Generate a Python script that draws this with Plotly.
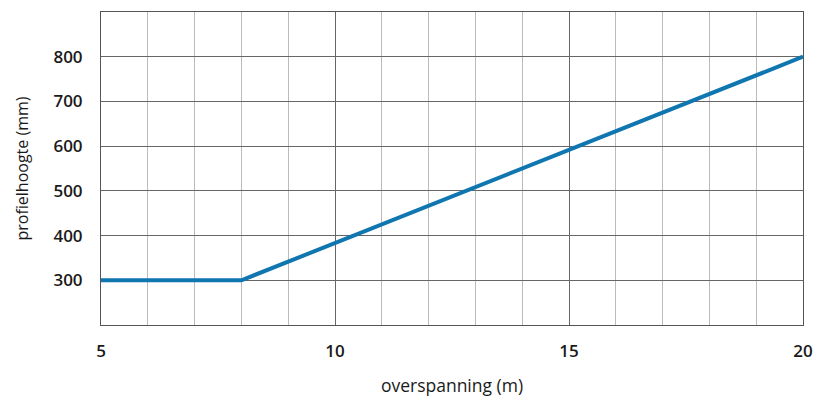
import plotly.graph_objects as go

span_m = [5, 8, 20]
height_mm = [300, 300, 800]
x_ticks = [5, 10, 15, 20]
y_ticks = [300, 400, 500, 600, 700, 800]

fig = go.Figure()
fig.add_trace(go.Scatter(x=span_m, y=height_mm, mode="lines",
                         line=dict(color="#0f76b0", width=4), showlegend=False,
                         hoverinfo="skip"))

font = dict(family="Open Sans", size=17, color="#1a1a1a", weight=600)
fig.update_layout(
    width=814, height=397,
    margin=dict(l=101, r=11, t=12, b=72, autoexpand=False),
    plot_bgcolor="white", paper_bgcolor="white",
    font=font,
)
fig.update_xaxes(
    range=[5, 20], tickvals=x_ticks, ticktext=[str(v) for v in x_ticks],
    showgrid=True, gridcolor="#666666", gridwidth=1,
    minor=dict(dtick=1, showgrid=True, gridcolor="#bbbbbb", gridwidth=1),
    showline=True, linecolor="#555555", linewidth=1, mirror=True,
    ticks="", ticklabelstandoff=11, zeroline=False, automargin=False,
    title=dict(text="overspanning (m)", standoff=22,
               font=dict(size=17.5, color="#1a1a1a", weight=400)),
)
fig.update_yaxes(
    range=[200, 900], tickvals=y_ticks,
    showgrid=True, gridcolor="#666666", gridwidth=1,
    showline=True, linecolor="#555555", linewidth=1, mirror=True,
    ticks="", ticklabelstandoff=14, zeroline=False, automargin=False,
    title=dict(text="profielhoogte (mm)", standoff=20,
               font=dict(size=16, color="#1a1a1a", weight=400)),
)
fig.write_html("out.html",
               config={"displayModeBar": False, "staticPlot": True},
               post_script="document.body.style.margin='0';document.body.style.overflow='hidden';")
